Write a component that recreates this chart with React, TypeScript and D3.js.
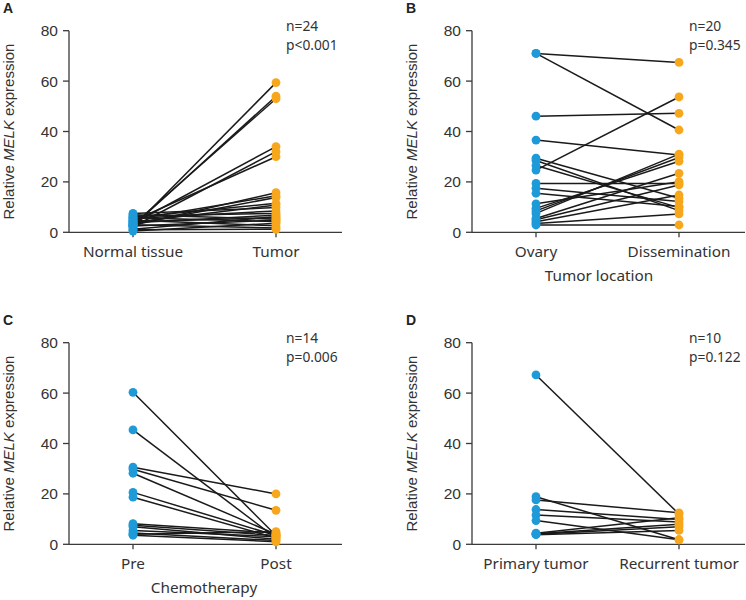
import React from "react";
import * as d3 from "d3";

const yTicks = [0, 20, 40, 60, 80];

const aCategories = ["Normal tissue", "Tumor"];
const aNormal = [2.0, 2.5, 3.0, 3.5, 2.2, 4.5, 2.8, 5.0, 3.2, 6.0, 4.0, 7.5, 5.5, 6.5, 3.8, 1.2, 4.2, 7.0, 2.5, 5.8, 0.5, 4.8, 3.0, 1.0];
const aTumor = [59.4, 54.0, 53.0, 34.0, 32.0, 30.0, 15.7, 14.5, 13.8, 11.5, 10.8, 9.8, 8.5, 7.5, 6.8, 6.2, 5.8, 5.2, 4.8, 4.3, 3.6, 2.6, 1.7, 1.2];

const bCategories = ["Ovary", "Dissemination"];
const bOvary = [71.0, 71.0, 46.1, 36.6, 29.4, 28.5, 24.7, 26.5, 19.4, 17.5, 15.5, 11.3, 9.5, 8.5, 7.5, 5.5, 5.0, 4.2, 3.5, 2.9];
const bDissemination = [67.4, 40.6, 47.2, 30.7, 13.5, 8.6, 53.7, 9.8, 19.4, 12.2, 10.2, 20.1, 28.2, 29.7, 31.0, 23.4, 18.8, 14.8, 7.3, 2.9];

const cCategories = ["Pre", "Post"];
const cPre = [60.3, 45.4, 30.6, 29.8, 28.2, 20.6, 18.7, 8.2, 7.6, 7.0, 5.5, 4.5, 4.0, 3.6];
const cPost = [3.5, 2.5, 20.0, 13.5, 4.0, 3.5, 2.5, 4.5, 3.5, 2.0, 3.0, 1.5, 5.0, 1.0];

const dCategories = ["Primary tumor", "Recurrent tumor"];
const dPrimary = [67.2, 18.9, 17.6, 13.8, 11.6, 9.4, 4.4, 4.2, 4.0, 3.8];
const dRecurrent = [12.0, 1.8, 12.5, 9.8, 8.8, 1.8, 10.5, 8.0, 7.0, 5.5];

const BLUE = "#1e9ad8";
const ORANGE = "#f7a71c";
const AXIS = "#3a3a3a";
const TEXT = "#333333";
const SANS = "'Liberation Sans', Arial, sans-serif";
const HUM = "'Noto Sans', 'Open Sans', sans-serif";

type PanelProps = {
  dx: number;
  dy: number;
  letter: string;
  cats: string[];
  before: number[];
  after: number[];
  nText: string;
  pText: string;
  xTitle?: string;
  xTitleX?: number;
};

function Panel({ dx, dy, letter, cats, before, after, nText, pText, xTitle, xTitleX }: PanelProps) {
  const axisX = 69;
  const right = 342;
  const y = d3.scaleLinear().domain([0, 80]).range([232.3, 30.7]);
  const x = d3.scalePoint<string>().domain(cats).range([133, 276]);
  const x0 = x(cats[0]) as number;
  const x1 = x(cats[1]) as number;
  const lineGen = d3
    .line<[number, number]>()
    .x((d) => d[0])
    .y((d) => d[1]);
  const r = 4.4;
  return (
    <g transform={`translate(${dx},${dy})`}>
      <text x={3} y={13.3} fontFamily={SANS} fontWeight="bold" fontSize={14} fill="#222">
        {letter}
      </text>
      <line x1={axisX} x2={axisX} y1={y(80)} y2={y(0)} stroke={AXIS} strokeWidth={1.3} />
      <line x1={axisX} x2={right} y1={y(0)} y2={y(0)} stroke={AXIS} strokeWidth={1.3} />
      {yTicks.map((t) => (
        <g key={t}>
          <line x1={axisX - 6} x2={axisX} y1={y(t)} y2={y(t)} stroke={AXIS} strokeWidth={1.3} />
          <text
            x={axisX - 11}
            y={y(t)}
            dy="0.36em"
            textAnchor="end"
            fontFamily={SANS}
            fontSize={15.5}
            fill={TEXT}
          >
            {t}
          </text>
        </g>
      ))}
      {cats.map((c) => (
        <g key={c}>
          <line
            x1={x(c) as number}
            x2={x(c) as number}
            y1={y(0)}
            y2={y(0) + 5}
            stroke={AXIS}
            strokeWidth={1.3}
          />
          <text
            x={x(c) as number}
            y={257}
            textAnchor="middle"
            fontFamily={HUM}
            fontSize={15.3}
            fill={TEXT}
          >
            {c}
          </text>
        </g>
      ))}
      {xTitle && (
        <text
          x={xTitleX ?? (x0 + x1) / 2}
          y={281}
          textAnchor="middle"
          fontFamily={HUM}
          fontSize={15.3}
          fill={TEXT}
        >
          {xTitle}
        </text>
      )}
      <text
        transform={`translate(${axisX - 55},${(y(0) + y(80)) / 2}) rotate(-90)`}
        textAnchor="middle"
        fontFamily={SANS}
        fontSize={15}
        fill={TEXT}
      >
        Relative <tspan fontStyle="italic">MELK</tspan> expression
      </text>
      <text x={286} y={30.7} fontFamily={HUM} fontSize={13.8} fill={TEXT}>
        {nText}
      </text>
      <text x={286} y={50.3} fontFamily={HUM} fontSize={13.8} fill={TEXT}>
        {pText}
      </text>
      {before.map((b, i) => (
        <path
          key={"l" + i}
          d={lineGen([
            [x0, y(b)],
            [x1, y(after[i])],
          ]) as string}
          stroke="#1a1a1a"
          strokeWidth={1.5}
          fill="none"
        />
      ))}
      {before.map((b, i) => (
        <circle key={"b" + i} cx={x0} cy={y(b)} r={r} fill={BLUE} />
      ))}
      {after.map((a, i) => (
        <circle key={"a" + i} cx={x1} cy={y(a)} r={r} fill={ORANGE} />
      ))}
    </g>
  );
}

export default function App() {
  return (
    <svg
      width={746}
      height={600}
      style={{ position: "absolute", left: 0, top: 0, background: "#fff" }}
    >
      <rect width={746} height={600} fill="#fff" />
      <Panel dx={0} dy={0} letter="A" cats={aCategories} before={aNormal} after={aTumor} nText="n=24" pText="p<0.001" />
      <Panel
        dx={403}
        dy={0}
        letter="B"
        cats={bCategories}
        before={bOvary}
        after={bDissemination}
        nText="n=20"
        pText="p=0.345"
        xTitle="Tumor location"
        xTitleX={196}
      />
      <Panel
        dx={0}
        dy={312}
        letter="C"
        cats={cCategories}
        before={cPre}
        after={cPost}
        nText="n=14"
        pText="p=0.006"
        xTitle="Chemotherapy"
        xTitleX={204}
      />
      <Panel dx={403} dy={312} letter="D" cats={dCategories} before={dPrimary} after={dRecurrent} nText="n=10" pText="p=0.122" />
    </svg>
  );
}
